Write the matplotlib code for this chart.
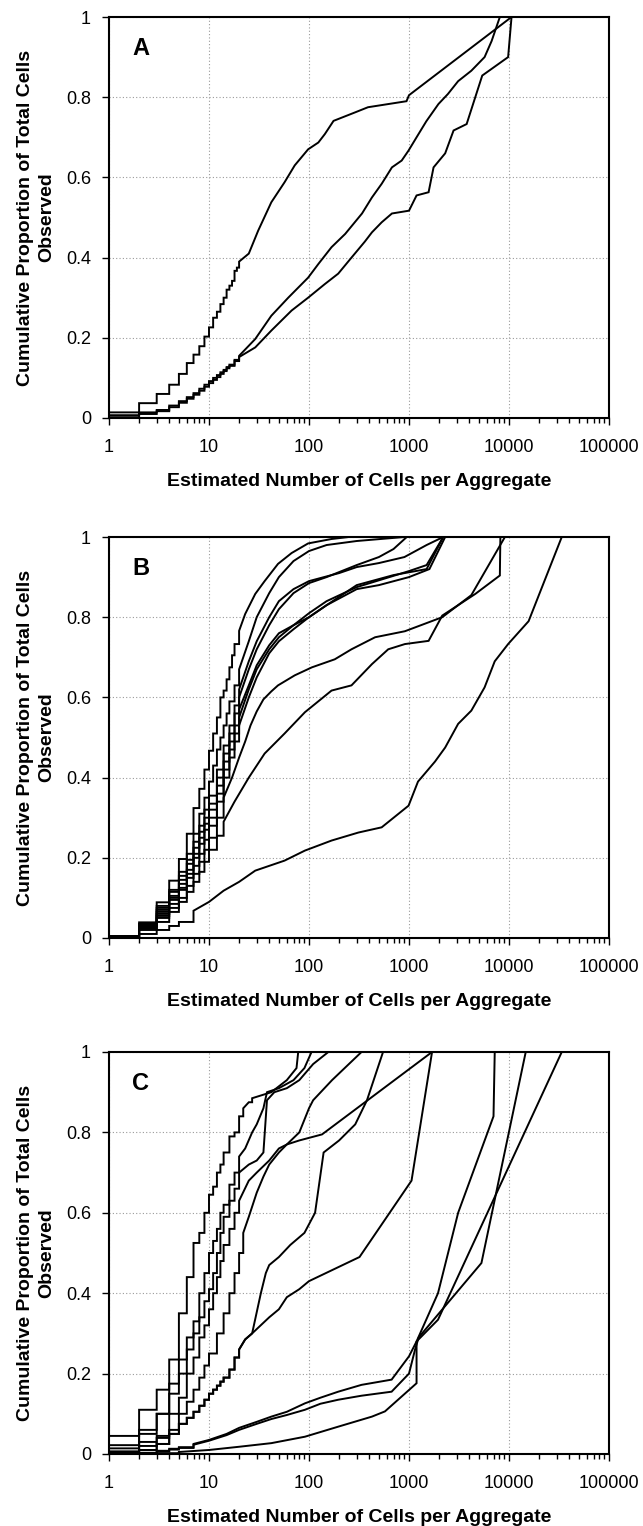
import numpy as np
import matplotlib.pyplot as plt
from matplotlib.ticker import FixedLocator, FixedFormatter, LogLocator, NullFormatter

plt.rcParams['font.family'] = ['Liberation Sans', 'DejaVu Sans']

# ---- data: aggregate size (cells) and cumulative proportion ----
# panel A
a_x = [
    [1, 2, 3, 4, 5, 6, 7, 8, 9, 10, 11, 12, 13, 14, 15, 16, 17, 18, 19, 20,
     25, 31, 42, 57, 72, 98, 124, 144, 176, 288, 389, 944, 1000, 10600],
    [1, 2, 3, 4, 5, 6, 7, 8, 9, 10, 11, 12, 13, 14, 15, 16, 18, 20,
     29, 42, 62, 98, 124, 168, 230, 339, 426, 533, 675, 845, 990, 1190, 1490,
     1970, 2450, 3100, 4200, 5700, 6700, 8100],
    [1, 2, 3, 4, 5, 6, 7, 8, 9, 10, 11, 12, 13, 14, 15, 16, 18, 20,
     29, 42, 67, 98, 144, 196, 266, 362, 426, 533, 675, 1000, 1190, 1570, 1760,
     2300, 2790, 3770, 4600, 5400, 9800, 10600],
]
a_y = [
    [0.014, 0.037, 0.06, 0.083, 0.11, 0.137, 0.158, 0.179, 0.203, 0.226, 0.25, 0.265,
     0.284, 0.30, 0.32, 0.33, 0.342, 0.367, 0.375, 0.39,
     0.41, 0.467, 0.538, 0.588, 0.63, 0.67, 0.687, 0.708, 0.741, 0.762, 0.775, 0.79,
     0.805, 1.0],
    [0.007, 0.014, 0.02, 0.031, 0.042, 0.052, 0.062, 0.073, 0.083, 0.092, 0.10, 0.107,
     0.114, 0.12, 0.127, 0.133, 0.145, 0.155,
     0.197, 0.255, 0.30, 0.35, 0.384, 0.426, 0.459, 0.51, 0.55, 0.584, 0.625, 0.642,
     0.667, 0.70, 0.74, 0.783, 0.808, 0.84, 0.866, 0.90, 0.94, 1.0],
    [0.002, 0.01, 0.017, 0.027, 0.038, 0.048, 0.058, 0.068, 0.078, 0.087, 0.095, 0.102,
     0.11, 0.117, 0.124, 0.13, 0.142, 0.152,
     0.176, 0.218, 0.268, 0.30, 0.334, 0.36, 0.40, 0.44, 0.463, 0.488, 0.51, 0.517,
     0.555, 0.563, 0.625, 0.66, 0.717, 0.733, 0.80, 0.854, 0.90, 1.0],
]

# panel B
b_x = [
    [1, 2, 3, 4, 5, 6, 7, 8, 9, 10, 11, 12, 13, 14, 15, 16, 17, 18, 20, 23, 29, 36, 49,
     67, 98, 168, 250],
    [1, 2, 3, 4, 5, 6, 7, 8, 9, 10, 11, 12, 13, 14, 15, 16, 18, 20, 25, 30, 40, 50, 70,
     100, 150, 300, 900],
    [1, 2, 3, 4, 5, 6, 7, 8, 9, 10, 12, 14, 16, 18, 20, 25, 30, 40, 50, 70, 100, 200,
     300, 500, 900, 1500, 2200],
    [1, 2, 3, 4, 5, 6, 7, 8, 9, 10, 12, 14, 16, 18, 20, 25, 30, 40, 50, 70, 100, 150,
     300, 500, 700, 950],
    [1, 2, 3, 4, 5, 6, 7, 8, 9, 10, 12, 14, 16, 18, 20, 25, 30, 40, 50, 70, 100, 150,
     300, 1000, 1500, 2200],
    [1, 2, 3, 4, 5, 6, 7, 8, 9, 10, 12, 14, 16, 18, 20, 25, 30, 40, 50, 70, 100, 150,
     300, 700, 1500, 2200],
    [1, 2, 3, 4, 5, 6, 7, 8, 9, 10, 12, 14, 16, 18, 20, 25, 30, 40, 50, 70, 100, 150,
     300, 500, 1000, 1600, 2300],
    [1, 2, 3, 4, 5, 6, 7, 8, 9, 10, 12, 14, 17, 20, 23, 26, 30, 35, 42, 49, 72, 107,
     181, 266, 458, 910, 2150, 4200, 9100],
    [1, 2, 3, 4, 5, 6, 7, 8, 9, 10, 12, 14, 18, 25, 36, 57, 91, 168, 266, 426, 620,
     910, 1570, 2150, 4600, 8100, 8200],
    [1, 2, 3, 4, 5, 7, 10, 14, 20, 29, 57, 91, 168, 312, 533, 990, 1230, 1820, 2300,
     3100, 4200, 5700, 7200, 9800, 15700, 33700],
]
b_y = [
    [0.004, 0.039, 0.089, 0.143, 0.197, 0.26, 0.324, 0.372, 0.42, 0.467, 0.51, 0.55,
     0.60, 0.617, 0.645, 0.675, 0.705, 0.733, 0.766, 0.808, 0.858, 0.89, 0.933, 0.96,
     0.984, 0.995, 1.0],
    [0.004, 0.035, 0.08, 0.12, 0.165, 0.21, 0.26, 0.31, 0.35, 0.39, 0.43, 0.47, 0.50,
     0.53, 0.56, 0.59, 0.63, 0.67, 0.74, 0.80, 0.86, 0.90, 0.94, 0.965, 0.98, 0.99, 1.0],
    [0.004, 0.035, 0.075, 0.115, 0.155, 0.195, 0.24, 0.28, 0.32, 0.355, 0.42, 0.48,
     0.53, 0.58, 0.62, 0.69, 0.74, 0.80, 0.84, 0.87, 0.89, 0.91, 0.925, 0.935, 0.95,
     0.98, 1.0],
    [0.004, 0.03, 0.07, 0.105, 0.145, 0.185, 0.225, 0.265, 0.30, 0.335, 0.40, 0.46,
     0.51, 0.56, 0.60, 0.67, 0.72, 0.78, 0.82, 0.86, 0.885, 0.90, 0.93, 0.95, 0.97, 1.0],
    [0.004, 0.03, 0.065, 0.10, 0.135, 0.17, 0.21, 0.25, 0.285, 0.32, 0.38, 0.44, 0.49,
     0.53, 0.57, 0.63, 0.68, 0.73, 0.76, 0.78, 0.81, 0.84, 0.875, 0.915, 0.93, 1.0],
    [0.004, 0.03, 0.06, 0.095, 0.125, 0.16, 0.20, 0.235, 0.27, 0.30, 0.36, 0.42, 0.47,
     0.51, 0.55, 0.62, 0.67, 0.72, 0.75, 0.78, 0.80, 0.83, 0.88, 0.905, 0.92, 1.0],
    [0.004, 0.025, 0.055, 0.085, 0.12, 0.15, 0.18, 0.21, 0.245, 0.28, 0.34, 0.40, 0.45,
     0.49, 0.53, 0.60, 0.65, 0.71, 0.74, 0.77, 0.80, 0.83, 0.87, 0.88, 0.90, 0.92, 1.0],
    [0.003, 0.025, 0.05, 0.075, 0.10, 0.13, 0.16, 0.19, 0.22, 0.25, 0.30, 0.35, 0.40,
     0.45, 0.49, 0.53, 0.565, 0.595, 0.615, 0.63, 0.655, 0.675, 0.695, 0.72, 0.75, 0.765,
     0.80, 0.855, 1.0],
    [0.003, 0.02, 0.04, 0.065, 0.09, 0.115, 0.14, 0.165, 0.19, 0.22, 0.255, 0.29, 0.34,
     0.40, 0.46, 0.51, 0.563, 0.617, 0.63, 0.683, 0.72, 0.733, 0.741, 0.804, 0.858,
     0.904, 1.0],
    [0.0, 0.01, 0.02, 0.03, 0.04, 0.068, 0.09, 0.118, 0.14, 0.168, 0.193, 0.218, 0.243,
     0.263, 0.276, 0.33, 0.39, 0.44, 0.475, 0.534, 0.567, 0.625, 0.69, 0.733, 0.79, 1.0],
]

# panel C
c_x = [
    [1, 2, 3, 4, 5, 6, 7, 8, 9, 10, 11, 12, 13, 14, 16, 18, 20, 22, 25, 27, 42, 60, 75,
     78],
    [1, 2, 3, 4, 5, 6, 7, 8, 9, 10, 11, 12, 13, 14, 16, 18, 20, 23, 27, 30, 35, 38, 50,
     70, 90, 106],
    [1, 2, 3, 4, 5, 6, 7, 8, 9, 10, 11, 12, 13, 14, 16, 18, 20, 25, 30, 35, 38, 45, 60,
     80, 110, 156],
    [1, 2, 3, 4, 5, 6, 7, 8, 9, 10, 11, 12, 13, 14, 16, 18, 20, 25, 30, 40, 50, 60, 80,
     100, 110, 170, 335],
    [1, 2, 3, 4, 5, 6, 7, 8, 9, 10, 12, 14, 16, 18, 20, 22, 25, 30, 35, 40, 50, 60, 80,
     135, 1700],
    [1, 2, 3, 4, 5, 6, 7, 8, 9, 10, 11, 12, 13, 14, 16, 18, 20, 23, 27, 33, 37, 40, 50,
     65, 90, 115, 140, 200, 290, 380, 550],
    [1, 2, 3, 4, 5, 6, 7, 8, 9, 10, 11, 12, 13, 14, 16, 18, 20, 23, 27, 40, 50, 60, 80,
     100, 320, 1060, 1700],
    [1, 2, 3, 4, 5, 7, 10, 15, 20, 30, 42, 60, 91, 130, 196, 335, 670, 1000, 1190, 1950,
     3100, 7000, 7200],
    [1, 2, 3, 4, 5, 7, 10, 15, 20, 30, 42, 60, 91, 130, 196, 335, 670, 1000, 1150, 1250,
     5300, 14700],
    [1, 3, 5, 10, 20, 42, 91, 196, 426, 575, 1190, 1190, 1950, 33700],
]
c_y = [
    [0.045, 0.11, 0.16, 0.235, 0.35, 0.44, 0.525, 0.55, 0.60, 0.645, 0.665, 0.70, 0.72,
     0.75, 0.79, 0.80, 0.84, 0.86, 0.875, 0.885, 0.90, 0.93, 0.96, 1.0],
    [0.022, 0.06, 0.10, 0.175, 0.235, 0.29, 0.33, 0.40, 0.45, 0.50, 0.53, 0.56, 0.60,
     0.62, 0.67, 0.70, 0.74, 0.76, 0.80, 0.82, 0.86, 0.90, 0.91, 0.93, 0.96, 1.0],
    [0.014, 0.05, 0.10, 0.15, 0.20, 0.26, 0.30, 0.34, 0.38, 0.41, 0.45, 0.50, 0.55,
     0.59, 0.63, 0.66, 0.70, 0.72, 0.73, 0.75, 0.88, 0.90, 0.91, 0.93, 0.97, 1.0],
    [0.006, 0.03, 0.045, 0.10, 0.14, 0.20, 0.24, 0.29, 0.32, 0.36, 0.40, 0.44, 0.48,
     0.52, 0.56, 0.60, 0.63, 0.68, 0.70, 0.73, 0.76, 0.77, 0.80, 0.86, 0.88, 0.93, 1.0],
    [0.006, 0.02, 0.04, 0.06, 0.10, 0.13, 0.16, 0.19, 0.22, 0.25, 0.30, 0.35, 0.40,
     0.45, 0.50, 0.55, 0.59, 0.65, 0.69, 0.72, 0.75, 0.77, 0.78, 0.795, 1.0],
    [0.002, 0.01, 0.025, 0.05, 0.075, 0.09, 0.105, 0.12, 0.135, 0.15, 0.16, 0.17, 0.18,
     0.19, 0.21, 0.24, 0.26, 0.285, 0.30, 0.40, 0.45, 0.47, 0.49, 0.52, 0.55, 0.60, 0.75,
     0.78, 0.82, 0.88, 1.0],
    [0.002, 0.01, 0.025, 0.05, 0.075, 0.09, 0.105, 0.12, 0.135, 0.15, 0.16, 0.17, 0.18,
     0.19, 0.21, 0.24, 0.26, 0.285, 0.30, 0.34, 0.36, 0.39, 0.41, 0.43, 0.49, 0.68, 1.0],
    [0.0, 0.003, 0.008, 0.013, 0.017, 0.025, 0.035, 0.05, 0.065, 0.08, 0.093, 0.105,
     0.126, 0.14, 0.155, 0.172, 0.185, 0.243, 0.28, 0.40, 0.60, 0.84, 1.0],
    [0.0, 0.002, 0.006, 0.011, 0.015, 0.023, 0.033, 0.047, 0.06, 0.075, 0.087, 0.097,
     0.11, 0.125, 0.135, 0.145, 0.155, 0.20, 0.26, 0.29, 0.475, 1.0],
    [0.0, 0.002, 0.005, 0.01, 0.018, 0.027, 0.043, 0.068, 0.093, 0.106, 0.176, 0.28,
     0.334, 1.0],
]

panel_letters = ['A', 'B', 'C']
x_ticks = [1, 10, 100, 1000, 10000, 100000]
x_tick_labels = ['1', '10', '100', '1000', '10000', '100000']
y_ticks = [0, 0.2, 0.4, 0.6, 0.8, 1]
y_tick_labels = ['0', '0.2', '0.4', '0.6', '0.8', '1']
# below this size, neighbouring sizes are joined as visible stairs
step_limits = [20, 30, 40]


def cdf_path(xs, ys, step_max):
    " Turns (size, cumulative proportion) points into the stair-like polyline "
    px, py = [xs[0]], [ys[0]]
    for i in range(1, len(xs)):
        if xs[i] <= step_max and xs[i] - xs[i-1] <= 2:
            px.append(xs[i])
            py.append(ys[i-1])
        px.append(xs[i])
        py.append(ys[i])
    return px, py


W, H = 643, 1526
fig = plt.figure(figsize=(W/100., H/100.), dpi=100)
# axes boxes in pixels: left, top, right, bottom
boxes = [(109, 17, 609, 418), (109, 537, 609, 938), (109, 1052, 609, 1454)]

for p, (xs_all, ys_all) in enumerate([(a_x, a_y), (b_x, b_y), (c_x, c_y)]):
    l, t, r, b = boxes[p]
    ax = fig.add_axes([l/W, 1-b/H, (r-l)/W, (b-t)/H])
    for xs, ys in zip(xs_all, ys_all):
        px, py = cdf_path(xs, ys, step_limits[p])
        ax.plot(px, py, '-', color='black', lw=1.4, solid_joinstyle='miter')
    ax.set_xscale('log')
    ax.set_xlim(1, 100000)
    ax.set_ylim(0, 1)
    ax.xaxis.set_major_locator(FixedLocator(x_ticks))
    ax.xaxis.set_major_formatter(FixedFormatter(x_tick_labels))
    ax.xaxis.set_minor_locator(LogLocator(base=10, subs=np.arange(2, 10)))
    ax.xaxis.set_minor_formatter(NullFormatter())
    ax.yaxis.set_major_locator(FixedLocator(y_ticks))
    ax.yaxis.set_major_formatter(FixedFormatter(y_tick_labels))
    ax.tick_params(axis='x', which='major', direction='out', length=5, width=1,
                   pad=10, labelsize=13)
    ax.tick_params(axis='x', which='minor', direction='out', length=3.5, width=1)
    ax.tick_params(axis='y', which='major', direction='out', length=5, width=1,
                   pad=8, labelsize=13)
    ax.grid(True, which='major', color='#9a9a9a', linestyle=(0, (1, 2)), lw=0.8)
    ax.set_axisbelow(True)
    for s in ax.spines.values():
        s.set_linewidth(1.5)
        s.set_color('black')
    ax.set_xlabel('Estimated Number of Cells per Aggregate', fontsize=14,
                  fontweight='bold', labelpad=12)
    ax.set_ylabel('Cumulative Proportion of Total Cells\nObserved', fontsize=14,
                  fontweight='bold', linespacing=1.35)
    ax.yaxis.label.set_verticalalignment('center')
    ax.yaxis.set_label_coords(-0.146, 0.5)
    ax.text(0.046, 0.905, panel_letters[p], transform=ax.transAxes, fontsize=17,
            fontweight='bold', va='baseline', ha='left')

plt.savefig('out.png', dpi=100)
